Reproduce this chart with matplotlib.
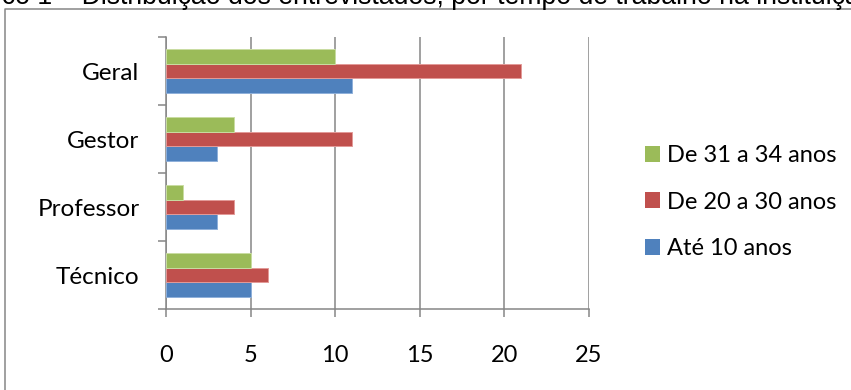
import matplotlib
matplotlib.use("Agg")
import matplotlib.pyplot as plt
from matplotlib.lines import Line2D
from matplotlib.patches import Patch

categories = ["Técnico", "Professor", "Gestor", "Geral"]
ate_10 = [5, 3, 3, 11]
de_20_30 = [6, 4, 11, 21]
de_31_34 = [5, 1, 4, 10]
series_names = ["Até 10 anos", "De 20 a 30 anos", "De 31 a 34 anos"]
xticks = [0, 5, 10, 15, 20, 25]
title = "Gráfico 1 – Distribuição dos entrevistados, por tempo de trabalho na instituição"

BLUE, RED, GREEN = "#4F81BD", "#C0504D", "#9BBB59"
EDGES = {"#4F81BD": "#8FB0DA", "#C0504D": "#E39A98", "#9BBB59": "#C9DDA2"}
GRAY = "#868686"
FONT = "Lato"
FS = 17.5

W, H = 851, 390
fig = plt.figure(figsize=(W / 100, H / 100), dpi=100)


def px(x0, y0, x1, y1):
    return [x0 / W, 1 - y1 / H, (x1 - x0) / W, (y1 - y0) / H]


ax = fig.add_axes(px(166, 37, 589, 309))

bh = 0.22
ys = range(len(categories))
for vals, col, off in ((ate_10, BLUE, -bh), (de_20_30, RED, 0.0), (de_31_34, GREEN, bh)):
    ax.barh([y + off for y in ys], vals, height=bh, color=col,
            edgecolor=EDGES[col], linewidth=0.7, zorder=3)

ax.set_xlim(0, 25)
ax.set_ylim(-0.5, len(categories) - 0.5)
ax.set_xticks(xticks)
ax.set_xticklabels([str(v) for v in xticks], fontsize=FS - 0.5, family=FONT)
ax.set_yticks([y - 0.5 for y in range(len(categories) + 1)])
ax.set_yticklabels([])
ax.set_yticks(list(ys), minor=True)
ax.set_yticklabels(categories, minor=True, fontsize=FS, family=FONT)
ax.tick_params(axis="y", which="minor", length=0, pad=19)
ax.tick_params(axis="y", which="major", length=6, width=1.1, color=GRAY)
ax.tick_params(axis="x", length=6, width=1.1, color=GRAY, pad=20)
ax.grid(axis="x", color=GRAY, linewidth=1.1, zorder=0)
ax.set_axisbelow(True)
for s in ("top", "right"):
    ax.spines[s].set_visible(False)
for s in ("left", "bottom"):
    ax.spines[s].set_color(GRAY)
    ax.spines[s].set_linewidth(1.1)

# legend (green on top, as in the original)
handles = [Patch(facecolor=c, edgecolor="none") for c in (GREEN, RED, BLUE)]
fig.legend(handles, series_names[::-1], loc="center left",
           bbox_to_anchor=(645 / W, 1 - 202 / H), frameon=False,
           prop={"family": FONT, "size": FS - 0.5}, handlelength=0.64, handleheight=0.64,
           handletextpad=0.3, labelspacing=1.08, borderaxespad=0, borderpad=0)

# chart frame (only left and top edges visible in the crop)
fig.add_artist(Line2D([5 / W, 5 / W, 1.0], [0, 1 - 9 / H, 1 - 9 / H],
                      color=GRAY, linewidth=1.1, transform=fig.transFigure))

# caption, cut off at the top edge
fig.text(-56 / W, 1 - 4 / H, title, family="Liberation Sans", fontsize=19.2,
         va="baseline", ha="left", color="#000000")

fig.savefig("out.png", dpi=100)
